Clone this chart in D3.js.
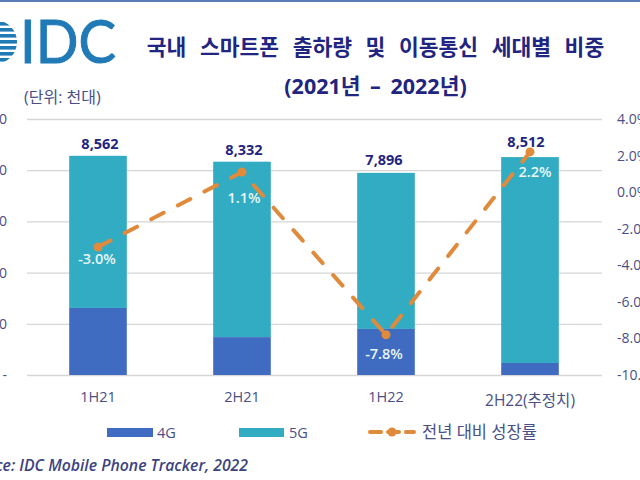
<!DOCTYPE html>
<html>
<head>
<meta charset="utf-8">
<script src="https://cdn.jsdelivr.net/npm/d3@7"></script>
<style>
  html, body { margin: 0; padding: 0; background: #fff; overflow: hidden; }
  text { font-family: "Open Sans", "Noto Sans CJK KR", sans-serif; }
</style>
</head>
<body>
<div id="chart"></div>
<script>
const categories = ['1H21', '2H21', '1H22', '2H22(추정치)'];
const totals = [8562, 8332, 7896, 8512];
const values4G = [2620, 1480, 1800, 470];
const growth = [-3.0, 1.1, -7.8, 2.2];
const leftTicks = [0, 2000, 4000, 6000, 8000, 10000];
const rightTicks = [4, 2, 0, -2, -4, -6, -8, -10];
const titleLines = ['국내 스마트폰 출하량 및 이동통신 세대별 비중', '(2021년 – 2022년)'];
const legendLabels = ['4G', '5G', '전년 대비 성장률'];

const navy = '#1f2580';
const axisText = '#4a4f86';
const logoBlue = '#1f7ab5';
const color4G = '#3f6bc0';
const color5G = '#31acc3';
const orange = '#e08a3c';

const svg = d3.select('#chart').append('svg')
  .attr('width', 640)
  .attr('height', 480);

svg.append('rect').attr('width', 640).attr('height', 2).attr('fill', '#5b7db5');

// Logo: globe runs off the left edge
const logo = svg.append('g');
logo.append('clipPath').attr('id', 'globe')
  .append('circle').attr('cx', -5).attr('cy', 42).attr('r', 22);
logo.append('g').attr('clip-path', 'url(#globe)')
  .selectAll('rect')
  .data(d3.range(22, 64, 6))
  .join('rect')
  .attr('x', -30)
  .attr('y', d => d)
  .attr('width', 60)
  .attr('height', 3.6)
  .attr('fill', logoBlue);
logo.append('text')
  .attr('x', 20).attr('y', 63)
  .attr('font-size', 60)
  .attr('textLength', 96)
  .attr('lengthAdjust', 'spacingAndGlyphs')
  .attr('fill', logoBlue)
  .attr('stroke', logoBlue)
  .attr('stroke-width', 1)
  .style('font-family', 'Lato, sans-serif')
  .text('IDC');

// Title
svg.selectAll('.title')
  .data(titleLines)
  .join('text')
  .attr('class', 'title')
  .attr('x', 375.5)
  .attr('y', (d, i) => i === 0 ? 55 : 94)
  .attr('text-anchor', 'middle')
  .attr('font-size', 21.5)
  .attr('font-weight', 700)
  .attr('word-spacing', (d, i) => i === 0 ? 8 : 4)
  .attr('fill', navy)
  .text(d => d);

svg.append('text')
  .attr('x', 24).attr('y', 103)
  .attr('font-size', 16)
  .attr('fill', axisText)
  .text('(단위: 천대)');

// Scales
const x = d3.scaleBand().domain(categories).range([26, 602]).paddingInner(0.6).paddingOuter(0.3);
const y = d3.scaleLinear().domain([0, 10000]).range([375, 119]);
const yGrowth = d3.scaleLinear().domain([-10, 4]).range([375, 119]);

// Grid and left axis
const leftAxis = svg.append('g')
  .attr('transform', 'translate(27,0)')
  .call(d3.axisLeft(y).tickValues(leftTicks).tickSize(-575).tickPadding(20)
    .tickFormat(d => d === 0 ? '-' : d3.format(',')(d)));
leftAxis.select('.domain').remove();
leftAxis.selectAll('line').attr('stroke', '#d6d6d6').attr('stroke-width', 1.3);
leftAxis.selectAll('text').attr('font-size', 14).attr('fill', axisText);

// Right axis
const rightAxis = svg.append('g')
  .attr('transform', 'translate(602,0)')
  .call(d3.axisRight(yGrowth).tickValues(rightTicks).tickSize(0).tickPadding(15)
    .tickFormat(d => d.toFixed(1) + '%'));
rightAxis.select('.domain').remove();
rightAxis.selectAll('text').attr('font-size', 14).attr('fill', axisText);

// Bars
const cx = c => x(c) + x.bandwidth() / 2;
svg.selectAll('.bar5g')
  .data(categories)
  .join('rect')
  .attr('class', 'bar5g')
  .attr('x', d => x(d))
  .attr('width', x.bandwidth())
  .attr('y', (d, i) => y(totals[i]))
  .attr('height', (d, i) => y(values4G[i]) - y(totals[i]))
  .attr('fill', color5G);
svg.selectAll('.bar4g')
  .data(categories)
  .join('rect')
  .attr('class', 'bar4g')
  .attr('x', d => x(d))
  .attr('width', x.bandwidth())
  .attr('y', (d, i) => y(values4G[i]))
  .attr('height', (d, i) => y(0) - y(values4G[i]))
  .attr('fill', color4G);

// Totals
const totalDx = [2, 2, -2, -4];
const totalGaps = [7, 7, 8, 10];
svg.selectAll('.total')
  .data(categories)
  .join('text')
  .attr('class', 'total')
  .attr('x', (d, i) => cx(d) + totalDx[i])
  .attr('y', (d, i) => y(totals[i]) - totalGaps[i])
  .attr('text-anchor', 'middle')
  .attr('font-size', 14.5)
  .attr('font-weight', 700)
  .attr('fill', navy)
  .text((d, i) => d3.format(',')(totals[i]));

// Category labels
svg.selectAll('.cat')
  .data(categories)
  .join('text')
  .attr('class', 'cat')
  .attr('x', cx)
  .attr('y', (d, i) => i === 3 ? 406 : 402)
  .attr('text-anchor', 'middle')
  .attr('font-size', (d, i) => i === 3 ? 15.5 : 14.5)
  .attr('fill', axisText)
  .text(d => d);

// Growth line
const line = d3.line().x((d, i) => cx(categories[i])).y(d => yGrowth(d));
svg.append('path')
  .datum(growth)
  .attr('d', line)
  .attr('fill', 'none')
  .attr('stroke', orange)
  .attr('stroke-width', 4)
  .attr('stroke-linecap', 'round')
  .attr('stroke-dasharray', '14 16');
svg.selectAll('.dot')
  .data(growth)
  .join('circle')
  .attr('class', 'dot')
  .attr('cx', (d, i) => cx(categories[i]))
  .attr('cy', d => yGrowth(d))
  .attr('r', 4.5)
  .attr('fill', orange);

// Growth labels
const growthDx = [-1, 2, -2, 5];
const growthDy = [17, 31, 24, 25];
svg.selectAll('.growth')
  .data(growth)
  .join('text')
  .attr('class', 'growth')
  .attr('x', (d, i) => cx(categories[i]) + growthDx[i])
  .attr('y', (d, i) => yGrowth(d) + growthDy[i])
  .attr('text-anchor', 'middle')
  .attr('font-size', 14.5)
  .attr('font-weight', 600)
  .attr('fill', '#e8f6f8')
  .text(d => d.toFixed(1) + '%');

// Legend
const legend = svg.append('g');
legend.append('rect').attr('x', 107).attr('y', 428).attr('width', 46).attr('height', 9).attr('fill', color4G);
legend.append('rect').attr('x', 239).attr('y', 428).attr('width', 45).attr('height', 9).attr('fill', color5G);
legend.append('text').attr('x', 157).attr('y', 438).attr('font-size', 14.5).attr('fill', axisText).text(legendLabels[0]);
legend.append('text').attr('x', 289).attr('y', 438).attr('font-size', 14.5).attr('fill', axisText).text(legendLabels[1]);
legend.append('line').attr('x1', 370).attr('x2', 414).attr('y1', 432).attr('y2', 432)
  .attr('stroke', orange).attr('stroke-width', 4).attr('stroke-linecap', 'round').attr('stroke-dasharray', '11 7');
legend.append('circle').attr('cx', 392).attr('cy', 432).attr('r', 4.5).attr('fill', orange);
legend.append('text').attr('x', 422).attr('y', 438).attr('font-size', 16.5).attr('fill', axisText).text(legendLabels[2]);

// Source
svg.append('text')
  .attr('x', 248).attr('y', 471)
  .attr('text-anchor', 'end')
  .attr('font-size', 15.8)
  .attr('font-style', 'italic')
  .attr('font-weight', 600)
  .attr('fill', '#3d4380')
  .text('Source: IDC Mobile Phone Tracker, 2022');
</script>
</body>
</html>
